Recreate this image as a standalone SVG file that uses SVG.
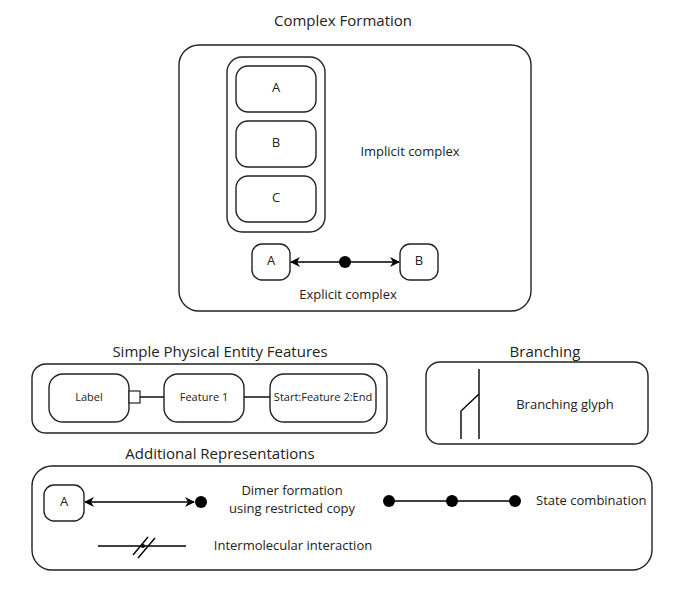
<svg xmlns="http://www.w3.org/2000/svg" width="685" height="599" viewBox="0 0 685 599">
<defs>
<marker id="ah" viewBox="0 0 10 10" refX="9" refY="5" markerWidth="10" markerHeight="10" orient="auto-start-reverse" markerUnits="userSpaceOnUse"><path d="M0,0 L10,5 L0,10 L3,5 Z" fill="#000"/></marker>
</defs>
<style>
text{font-family:"Open Sans","Liberation Sans",sans-serif;font-size:13px;fill:#222;text-anchor:middle;dominant-baseline:middle}
.t{font-size:15px}
.b{fill:#fff;stroke:#222;stroke-width:1.4}
.l{stroke:#000;stroke-width:1.4;fill:none}
</style>
<rect width="685" height="599" fill="#fff"/>
<text class="t" x="343" y="22">Complex Formation</text>
<g id="complexFormation"><rect class="b" x="179" y="45" width="352" height="266" rx="20"/></g>
<g id="implicit"><rect class="b" x="227" y="57" width="98" height="175" rx="15"/></g>
<g id="nA"><rect class="b" x="236" y="66" width="80" height="46" rx="12"/><text x="276" y="89">A</text></g>
<g id="nB"><rect class="b" x="236" y="121" width="80" height="46" rx="12"/><text x="276" y="144">B</text></g>
<g id="nC"><rect class="b" x="236" y="176" width="80" height="46" rx="12"/><text x="276" y="199">C</text></g>
<text x="410" y="153">Implicit complex</text>
<g id="eA"><rect class="b" x="252" y="244" width="38" height="36" rx="10"/><text x="271" y="262">A</text></g>
<g id="eB"><rect class="b" x="400" y="244" width="38" height="36" rx="10"/><text x="419" y="262">B</text></g>
<text x="348" y="296">Explicit complex</text>

<text class="t" x="220" y="353">Simple Physical Entity Features</text>
<g id="features"><rect class="b" x="32" y="364" width="355" height="69" rx="14"/></g>
<g id="label"><rect class="b" x="49" y="374" width="80" height="48" rx="14"/><text x="89" y="398" style="font-size:11px">Label</text></g>
<g id="f1"><rect class="b" x="164" y="374" width="80" height="48" rx="14"/><text x="204" y="398" style="font-size:11px">Feature 1</text></g>
<g id="f2"><rect class="b" x="270" y="374" width="106" height="48" rx="14"/><text x="323" y="398" style="font-size:11px">Start:Feature 2:End</text></g>

<text class="t" x="545" y="353">Branching</text>
<g id="branching"><rect class="b" x="426" y="362" width="222" height="82" rx="14"/><text x="565" y="406">Branching glyph</text></g>

<text class="t" x="220" y="455">Additional Representations</text>
<g id="additional"><rect class="b" x="32" y="466" width="620" height="104" rx="20"/></g>
<g id="aA"><rect class="b" x="44" y="485" width="40" height="36" rx="10"/><text x="64" y="503">A</text></g>
<text x="292" y="492">Dimer formation</text>
<text x="292" y="510">using restricted copy</text>
<text x="536" y="502" style="text-anchor:start">State combination</text>
<text x="293" y="547">Intermolecular interaction</text>

<g id="connectors">
<line class="l" x1="291" y1="262" x2="399" y2="262" marker-start="url(#ah)" marker-end="url(#ah)"/>
<circle cx="345" cy="262" r="6" fill="#000"/>
<rect x="129" y="391" width="11" height="12" fill="#fff" stroke="#222" stroke-width="1.2"/>
<line class="l" x1="140" y1="397" x2="164" y2="397"/>
<line class="l" x1="244" y1="397" x2="270" y2="397"/>
<line class="l" x1="479" y1="369" x2="479" y2="439"/>
<polyline class="l" points="461,439 461,411 479,394"/>
<line class="l" x1="85" y1="502" x2="194" y2="502" marker-start="url(#ah)" marker-end="url(#ah)"/>
<circle cx="201" cy="502" r="6" fill="#000"/>
<line class="l" x1="389" y1="501" x2="515" y2="501"/>
<circle cx="389" cy="501" r="6" fill="#000"/>
<circle cx="452" cy="501" r="6" fill="#000"/>
<circle cx="515" cy="501" r="6" fill="#000"/>
<line class="l" x1="98" y1="546" x2="186" y2="546"/>
<line class="l" x1="133" y1="555" x2="148" y2="537"/>
<line class="l" x1="138" y1="558" x2="155" y2="538"/>
<circle cx="143" cy="546" r="2" fill="#000"/>
</g>
</svg>
